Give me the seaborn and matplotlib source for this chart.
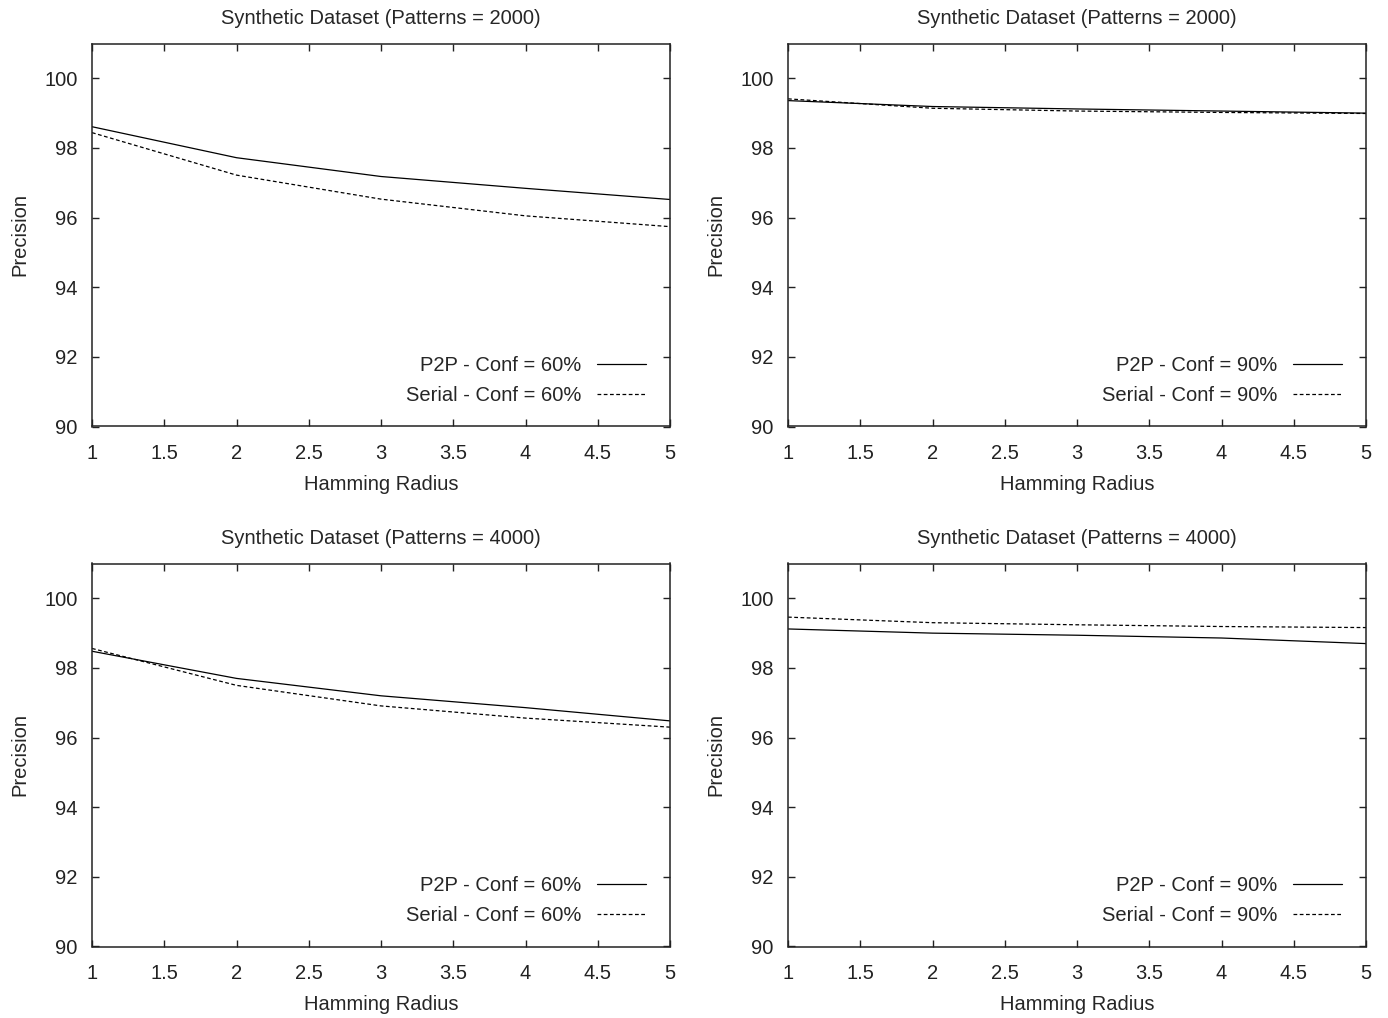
import matplotlib
matplotlib.use("Agg")
import matplotlib.pyplot as plt
import seaborn as sns
import pandas as pd

sns.set_style("ticks")
plt.rcParams['font.family'] = ['Liberation Sans', 'DejaVu Sans']

radius = [1, 2, 3, 4, 5]

# Patterns = 2000, Conf = 60%
p2p_2000_60 = [98.61, 97.72, 97.18, 96.84, 96.52]
serial_2000_60 = [98.44, 97.22, 96.53, 96.05, 95.74]
# Patterns = 2000, Conf = 90%
p2p_2000_90 = [99.36, 99.19, 99.12, 99.06, 99.00]
serial_2000_90 = [99.41, 99.14, 99.06, 99.02, 98.99]
# Patterns = 4000, Conf = 60%
p2p_4000_60 = [98.48, 97.70, 97.20, 96.86, 96.48]
serial_4000_60 = [98.56, 97.50, 96.91, 96.56, 96.30]
# Patterns = 4000, Conf = 90%
p2p_4000_90 = [99.12, 99.00, 98.94, 98.86, 98.70]
serial_4000_90 = [99.46, 99.30, 99.24, 99.19, 99.16]

titles = ["Synthetic Dataset (Patterns = 2000)", "Synthetic Dataset (Patterns = 2000)",
          "Synthetic Dataset (Patterns = 4000)", "Synthetic Dataset (Patterns = 4000)"]
confs = ["60%", "90%", "60%", "90%"]
series = [(p2p_2000_60, serial_2000_60), (p2p_2000_90, serial_2000_90),
          (p2p_4000_60, serial_4000_60), (p2p_4000_90, serial_4000_90)]

W, H = 1388, 1018
fig = plt.figure(figsize=(W / 100, H / 100), dpi=100)

lefts = [92, 788, 92, 788]
tops = [43.5, 43.5, 563.5, 563.5]
aw, ah = 578, 383
FS = 14.5

for i in range(4):
    l, t = lefts[i], tops[i]
    ax = fig.add_axes([l / W, 1 - (t + ah) / H, aw / W, ah / H])
    p2p, ser = series[i]
    lab_p = f"P2P - Conf = {confs[i]}"
    lab_s = f"Serial - Conf = {confs[i]}"
    df = pd.DataFrame({
        "radius": radius * 2,
        "precision": p2p + ser,
        "series": [lab_p] * 5 + [lab_s] * 5,
    })
    sns.lineplot(data=df, x="radius", y="precision", hue="series", style="series",
                 palette=["black", "black"], dashes=[(None, None), (3, 2)],
                 linewidth=0.9, ax=ax, legend=True)
    lines = ax.get_lines()
    lines[0].set_linestyle("-")
    lines[1].set_linestyle((0, (3, 2)))
    ax.set_xlim(1, 5)
    ax.set_ylim(90, 101)
    ax.set_xticks([1, 1.5, 2, 2.5, 3, 3.5, 4, 4.5, 5])
    ax.set_xticklabels(["1", "1.5", "2", "2.5", "3", "3.5", "4", "4.5", "5"])
    ax.set_yticks([90, 92, 94, 96, 98, 100])
    ax.tick_params(direction="in", length=5, width=1, top=True, right=True,
                   labelsize=FS, colors="#222222")
    ax.tick_params(axis="x", pad=12.5)
    ax.tick_params(axis="y", pad=10.5)
    for s in ax.spines.values():
        s.set_linewidth(1.1)
        s.set_color("#222222")
    ax.set_xlabel("Hamming Radius", fontsize=FS, labelpad=9)
    ax.set_ylabel("Precision", fontsize=FS, labelpad=10.5)
    ax.set_title(titles[i], fontsize=FS, pad=14)
    h, lb = ax.get_legend_handles_labels()
    ax.legend(h[:2], [lab_p, lab_s], loc="lower right", frameon=False,
              markerfirst=False, fontsize=FS, handlelength=2.4,
              handletextpad=0.8, labelspacing=0.55, borderaxespad=0,
              bbox_to_anchor=(0.972, 0.036))

fig.savefig("out.png", dpi=100)
